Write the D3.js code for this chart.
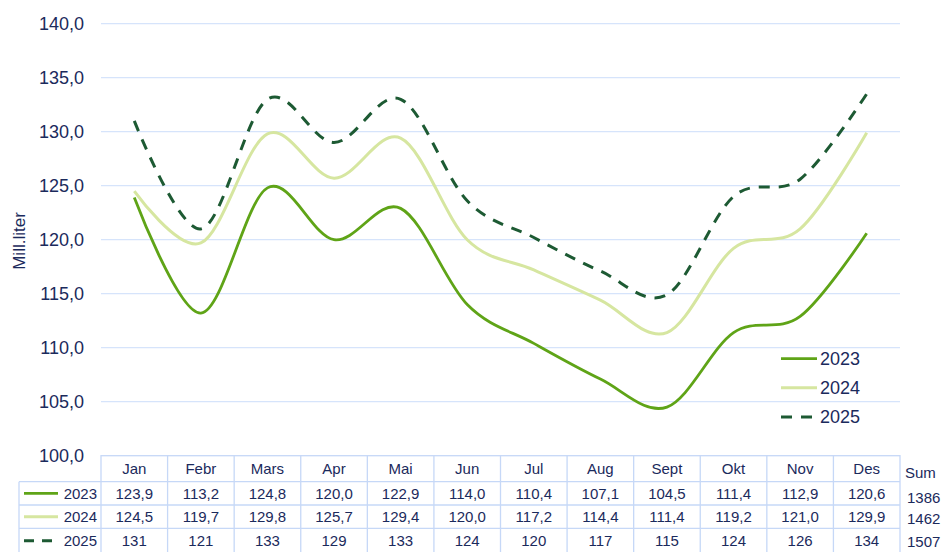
<!DOCTYPE html>
<html><head><meta charset="utf-8">
<script src="https://cdn.jsdelivr.net/npm/d3@7"></script>
<style>body{margin:0;background:#fff;}svg{display:block;font-family:"Liberation Sans",Arial,sans-serif;}</style>
</head><body><svg id="c" width="944" height="552"></svg>
<script>
const months = ["Jan","Febr","Mars","Apr","Mai","Jun","Jul","Aug","Sept","Okt","Nov","Des"];
const seriesNames = ["2023","2024","2025"];
const v2023 = [123.9,113.2,124.8,120.0,122.9,114.0,110.4,107.1,104.5,111.4,112.9,120.6];
const v2024 = [124.5,119.7,129.8,125.7,129.4,120.0,117.2,114.4,111.4,119.2,121.0,129.9];
const v2025 = [131,121,133,129,133,124,120,117,115,124,126,134];
// 2025 as plotted (unrounded values estimated from the curve)
const v2025Plot = [131.0,121.0,133.0,129.0,133.0,123.6,120.2,117.1,114.9,124.0,125.6,133.5];
const sums = ["1386","1462","1507"];
const yTicks = [100,105,110,115,120,125,130,135,140];

const colors = ["#5fa417","#d6e6a0","#1d5a33"];
const dashes = [null,null,"11,9"];
const widths = [2.8,3,3];
const txt = "#1b2a5c";
const gridC = "#d6e4fb";
const tblC = "#c6d8f7";

const svg = d3.select("#c");
const L=101, R=900, T=23.7, B=455.7;
const x = d3.scaleBand().domain(months).range([L,R]);
const y = d3.scaleLinear().domain([100,140]).range([B,T]);

// grid
svg.append("g").selectAll("line").data(yTicks.filter(d=>d>100)).join("line")
  .attr("x1",L).attr("x2",R).attr("y1",d=>y(d)).attr("y2",d=>y(d))
  .attr("stroke",gridC).attr("stroke-width",1.3);

// y axis labels
const fmt = d=>d3.format(".1f")(d).replace(".",",");
svg.append("g").selectAll("text").data(yTicks).join("text")
  .attr("x",84).attr("y",d=>y(d)).attr("dy","0.35em").attr("text-anchor","end")
  .attr("font-size",18).attr("fill",txt).text(fmt);

svg.append("text").attr("transform","translate(24.5,241) rotate(-90)")
  .attr("text-anchor","middle").attr("font-size",17).attr("fill",txt).text("Mill.liter");

// lines
const plotData = [v2023,v2024,v2025Plot];
const data = [v2023,v2024,v2025];
const line = d3.line().x((d,i)=>x(months[i])+x.bandwidth()/2).y(d=>y(d)).curve(d3.curveCatmullRom.alpha(0));
plotData.forEach((s,k)=>{
  const p = svg.append("path").attr("d",line(s)).attr("fill","none")
    .attr("stroke",colors[k]).attr("stroke-width",widths[k]).attr("stroke-linejoin","round");
  if(dashes[k]) p.attr("stroke-dasharray",dashes[k]);
});

// legend in plot
const legY=[358.7,387.7,417];
seriesNames.forEach((n,k)=>{
  const l = svg.append("line").attr("x1",781).attr("x2",817).attr("y1",legY[k]).attr("y2",legY[k])
    .attr("stroke",colors[k]).attr("stroke-width",widths[k]);
  if(dashes[k]) l.attr("stroke-dasharray",dashes[k]);
  svg.append("text").attr("x",820).attr("y",legY[k]).attr("dy","0.35em")
    .attr("font-size",18).attr("fill",txt).text(n);
});

// table
const rowTop=[481.7,505,528.3], rowBot=[505,528.3,553];
const tg = svg.append("g");
tg.append("rect").attr("x",L).attr("y",B).attr("width",R-L).attr("height",560-B)
  .attr("fill","none").attr("stroke",tblC).attr("stroke-width",1.3);
months.forEach((m,i)=>{
  if(i>0) tg.append("line").attr("x1",x(m)).attr("x2",x(m)).attr("y1",B).attr("y2",560)
    .attr("stroke",tblC).attr("stroke-width",1.3);
  tg.append("text").attr("x",x(m)+x.bandwidth()/2).attr("y",469).attr("dy","0.35em")
    .attr("text-anchor","middle").attr("font-size",15).attr("fill",txt).text(m);
});
rowTop.forEach(t=>{
  tg.append("line").attr("x1",19).attr("x2",R).attr("y1",t).attr("y2",t).attr("stroke",tblC).attr("stroke-width",1.3);
});
tg.append("line").attr("x1",19).attr("x2",19).attr("y1",rowTop[0]).attr("y2",560).attr("stroke",tblC).attr("stroke-width",1.3);

const rowFmt = [d=>d3.format(".1f")(d).replace(".",","), d=>d3.format(".1f")(d).replace(".",","), d=>String(d)];
data.forEach((s,k)=>{
  const cy=(rowTop[k]+rowBot[k])/2;
  const l = tg.append("line").attr("x1",24).attr("x2",58).attr("y1",cy).attr("y2",cy)
    .attr("stroke",colors[k]).attr("stroke-width",widths[k]);
  if(dashes[k]) l.attr("stroke-dasharray","10,8");
  tg.append("text").attr("x",97).attr("y",cy).attr("dy","0.35em").attr("text-anchor","end")
    .attr("font-size",15).attr("fill",txt).text(seriesNames[k]);
  s.forEach((v,i)=>{
    tg.append("text").attr("x",x(months[i])+x.bandwidth()/2).attr("y",cy).attr("dy","0.35em")
      .attr("text-anchor","middle").attr("font-size",15).attr("fill",txt).text(rowFmt[k](v));
  });
});
tg.append("text").attr("x",905).attr("y",473).attr("dy","0.35em").attr("font-size",15).attr("fill",txt).text("Sum");
const sumY=[498,519,542];
sums.forEach((s,k)=>tg.append("text").attr("x",907).attr("y",sumY[k]).attr("dy","0.35em")
  .attr("font-size",15).attr("fill",txt).text(s));
</script></body></html>
